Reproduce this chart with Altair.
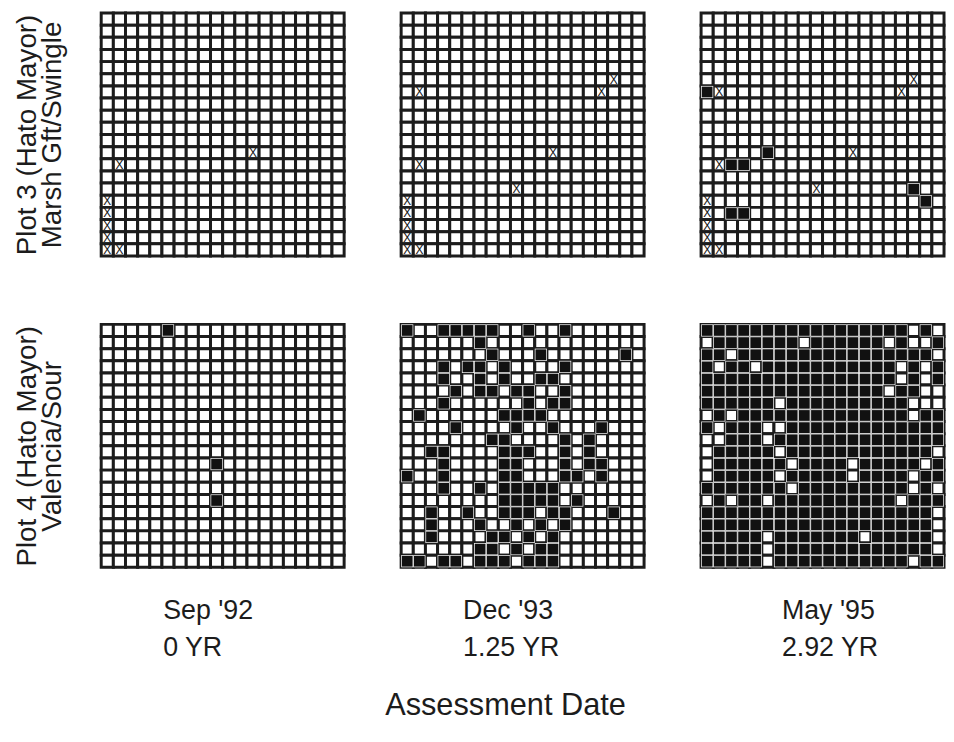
import altair as alt
import pandas as pd

# Cell codes: '.' = open cell, 'X' = crossed cell, '#' = filled cell (20 rows x 20 columns)
B = "." * 20

plot3_sep92 = [B, B, B, B, B, B, B, B, B, B, B,
               "............X.......",
               ".X..................",
               B, B,
               "X...................",
               "X...................",
               "X...................",
               "X...................",
               "XX.................."]

plot3_dec93 = [B, B, B, B, B,
               ".................X..",
               ".X..............X...",
               B, B, B, B,
               "............X.......",
               ".X..................",
               B,
               ".........X..........",
               "X...................",
               "X...................",
               "X...................",
               "X...................",
               "XX.................."]

plot3_may95 = [B, B, B, B, B,
               ".................X..",
               "#X..............X...",
               B, B, B, B,
               ".....#......X.......",
               ".X##................",
               B,
               ".........X.......#..",
               "X.................#.",
               "X.##................",
               "X...................",
               "X...................",
               "XX.................."]

plot4_sep92 = [".....#..............",
               B, B, B, B, B, B, B, B, B, B,
               ".........#..........",
               B, B,
               ".........#..........",
               B, B, B, B, B]

plot4_dec93 = ["#..#####..#..#......",
               "......#.............",
               ".......#...#......#.",
               "...#.##.#....#......",
               "...#..#.#..##.......",
               "....#.##.##..#......",
               "...#......#.##......",
               ".#......####........",
               "....#....#..#...#...",
               ".......##....#.#....",
               "..##....###..#.#....",
               "...#....##...#.##...",
               "#..#....##...##.#...",
               "...#..#.#####.......",
               "........#####.#.....",
               "..#..#..###.##...#..",
               "..#...#..#.#.#......",
               "..#....##.#.#.......",
               "......##.#.##.......",
               "##.##.###.###......."]

plot4_may95 = ["#################.#.",
               ".#######.######.#..#",
               "##.################.",
               "#.##.###########.#.#",
               "################.#.#",
               "###############.##..",
               "######.##########...",
               ".#.##############.##",
               "#.###..#############",
               "..###.##############",
               ".#####.############.",
               ".######.####.#####.#",
               ".#####.#####.####.##",
               "#######.#########.#.",
               ".#.##.##########.###",
               "###################.",
               "###################.",
               "#####.#######.#####.",
               "#####.#############.",
               "#####.###########.##"]

row_titles = [["Plot 3 (Hato Mayor)", "Marsh Gft/Swingle"],
              ["Plot 4 (Hato Mayor)", "Valencia/Sour"]]
col_titles = [["Sep '92", "0 YR"], ["Dec '93", "1.25 YR"], ["May '95", "2.92 YR"]]
col_title_offsets = [62, 62, 81]
grids = [[plot3_sep92, plot3_dec93, plot3_may95],
         [plot4_sep92, plot4_dec93, plot4_may95]]

FONT = "Liberation Sans"
INK = "#1c1c1c"
SIZE = 245


def cells(grid):
    recs = []
    for r, line in enumerate(grid):
        line = line.ljust(20, ".")[:20]
        for c, ch in enumerate(line):
            recs.append({"row": r, "row2": r + 1, "col": c, "col2": c + 1,
                         "rc": r + 0.5, "cc": c + 0.5, "state": ch})
    return pd.DataFrame(recs)


def panel(grid, ytitle=None, xtitle=None, xoff=60):
    df = cells(grid)
    xs = alt.Scale(domain=[0, 20], nice=False, zero=False)
    ys = alt.Scale(domain=[0, 20], nice=False, zero=False, reverse=True)
    if xtitle is not None:
        xaxis = alt.Axis(domain=False, ticks=False, labels=False, grid=False,
                         title=xtitle, titleFont=FONT, titleFontSize=27,
                         titleFontWeight="normal", titleColor=INK,
                         titleAnchor="start", titleAlign="left",
                         titleX=xoff, titleY=31, titleBaseline="top",
                         titleLineHeight=37)
    else:
        xaxis = None
    if ytitle is not None:
        yaxis = alt.Axis(domain=False, ticks=False, labels=False, grid=False,
                         title=ytitle, titleFont=FONT, titleFontSize=28,
                         titleFontWeight="normal", titleColor=INK,
                         titleAngle=270, titleAlign="center",
                         titleBaseline="top", titleX=-88, titleY=SIZE / 2,
                         titleLineHeight=25)
    else:
        yaxis = None
    base = alt.Chart(df)
    enc = dict(x=alt.X("col:Q", scale=xs, axis=xaxis), x2="col2:Q",
               y=alt.Y("row:Q", scale=ys, axis=yaxis), y2="row2:Q")
    gridl = base.mark_rect(fill="white", stroke=INK, strokeWidth=3).encode(**enc)
    white = base.transform_filter(alt.datum.state == "#").mark_rect(
        fill="white", strokeWidth=0).encode(**enc)
    black = base.transform_filter(alt.datum.state == "#").mark_rect(
        fill="#111111", strokeWidth=0, xOffset=0.7, x2Offset=-0.7,
        yOffset=0.7, y2Offset=-0.7).encode(**enc)
    crosses = base.transform_filter(alt.datum.state == "X").mark_text(
        text="X", font=FONT, fontSize=12, color="#111111",
        baseline="middle", align="center").encode(
        x=alt.X("cc:Q", scale=xs, axis=xaxis),
        y=alt.Y("rc:Q", scale=ys, axis=yaxis))
    return alt.layer(gridl, white, black, crosses).properties(width=SIZE, height=SIZE)


charts = []
for i in range(2):
    for j in range(3):
        charts.append(panel(grids[i][j],
                            ytitle=row_titles[i] if j == 0 else None,
                            xtitle=col_titles[j] if i == 1 else None,
                            xoff=col_title_offsets[j]))

chart = alt.concat(*charts, columns=3, spacing={"row": 69, "column": 57.5},
                   bounds="flush").properties(
    title=alt.TitleParams(text="Assessment Date", orient="bottom", font=FONT,
                          fontSize=31, fontWeight="normal", color=INK,
                          offset=30, anchor="middle", dx=26),
    padding={"left": 5, "top": 0, "right": 0, "bottom": 5},
).configure_view(stroke=None).configure(background="white")

chart.save("out.html", embed_options={"renderer": "svg", "actions": False})
